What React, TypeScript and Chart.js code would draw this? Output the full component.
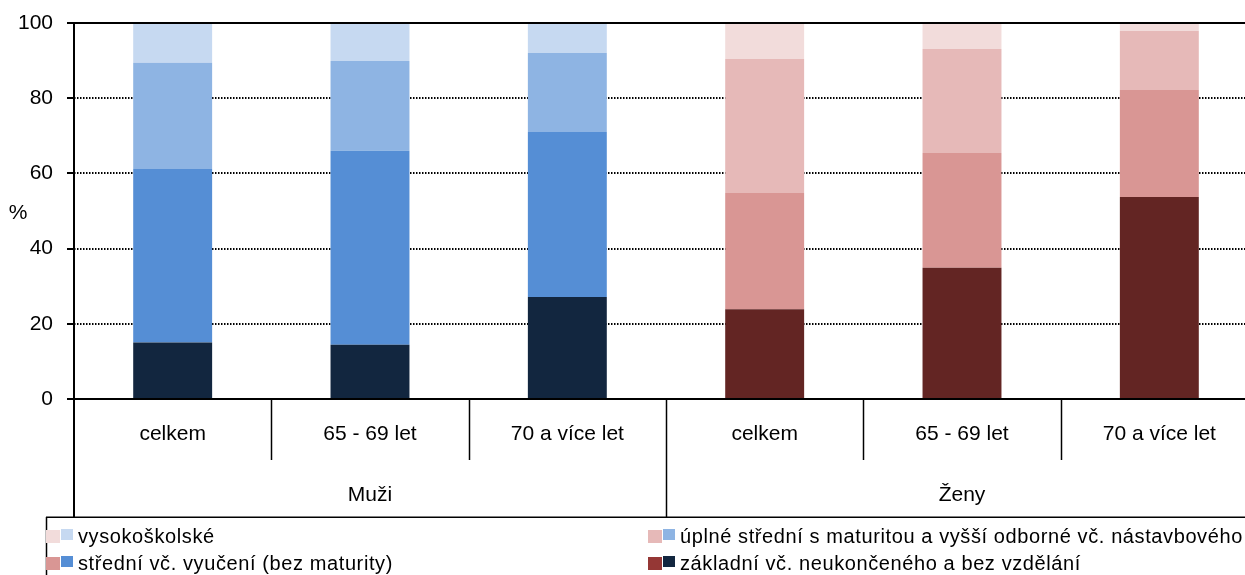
import React, { useEffect, useRef } from "react";
import { Chart, registerables } from "chart.js";

Chart.register(...registerables);

const categories = ["celkem", "65 - 69 let", "70 a více let", "celkem", "65 - 69 let", "70 a více let"];
const groups = ["Muži", "Ženy"];
const yTicks = [0, 20, 40, 60, 80, 100];

const zakladni = [15.0, 14.4, 27.1, 23.9, 34.9, 53.7];
const stredniVyuceni = [46.2, 51.6, 43.9, 30.9, 30.5, 28.5];
const uplneStredni = [28.2, 23.9, 21.0, 35.6, 27.7, 15.7];
const vysokoskolske = [10.6, 10.1, 8.0, 9.6, 6.9, 2.1];

const seriesNames = [
  "základní vč. neukončeného a bez vzdělání",
  "střední vč. vyučení (bez maturity)",
  "úplné střední s maturitou a vyšší odborné vč. nástavbového",
  "vysokoškolské",
];

const blueColors = ["#12263F", "#558ED5", "#8EB4E3", "#C6D9F1"];
const redColors = ["#632523", "#D99694", "#E6B9B8", "#F2DCDB"];
const legendRed = ["#953735", "#D99694", "#E6B9B8", "#F2DCDB"];

const FONT = "Liberation Sans, Arial, sans-serif";

const overlayPlugin = {
  id: "overlay",
  beforeDatasetsDraw(chart: any) {
    const { ctx, chartArea, scales } = chart;
    const y = scales.y;
    ctx.save();
    ctx.strokeStyle = "#000";
    ctx.lineWidth = 2;
    ctx.setLineDash([1.5, 1.5]);
    yTicks.forEach((t) => {
      if (t === 0 || t === 100) return;
      const py = Math.round(y.getPixelForValue(t));
      ctx.beginPath();
      ctx.moveTo(chartArea.left, py);
      ctx.lineTo(chartArea.right, py);
      ctx.stroke();
    });
    ctx.restore();
  },
  afterDraw(chart: any) {
    const { ctx, chartArea, scales } = chart;
    const x = scales.x;
    const y = scales.y;
    ctx.save();
    ctx.strokeStyle = "#000";
    ctx.lineWidth = 2;
    const topY = Math.round(y.getPixelForValue(100));
    ctx.beginPath();
    ctx.moveTo(chartArea.left, topY);
    ctx.lineTo(chartArea.right, topY);
    ctx.stroke();

    const bottom = chartArea.bottom;
    const catW = x.getPixelForTick(1) - x.getPixelForTick(0);
    const boxBottom = 517;
    ctx.lineWidth = 1.5;
    for (let i = 1; i < categories.length; i++) {
      const px = Math.round(x.getPixelForTick(i) - catW / 2) + 0.5;
      const isGroup = i === 3;
      ctx.beginPath();
      ctx.moveTo(px, bottom);
      ctx.lineTo(px, isGroup ? boxBottom : 460);
      ctx.stroke();
    }
    ctx.lineWidth = 2;
    ctx.beginPath();
    ctx.moveTo(chartArea.left, bottom);
    ctx.lineTo(chartArea.left, boxBottom);
    ctx.stroke();
    ctx.beginPath();
    ctx.moveTo(chartArea.right, bottom);
    ctx.lineTo(chartArea.right, boxBottom);
    ctx.stroke();

    ctx.lineWidth = 1.5;
    ctx.beginPath();
    ctx.moveTo(46, boxBottom + 0.25);
    ctx.lineTo(chart.width, boxBottom + 0.25);
    ctx.moveTo(46.5, boxBottom);
    ctx.lineTo(46.5, chart.height);
    ctx.stroke();

    ctx.fillStyle = "#000";
    ctx.font = `21px ${FONT}`;
    ctx.textAlign = "center";
    ctx.textBaseline = "middle";
    groups.forEach((g, gi) => {
      const c = (x.getPixelForTick(gi * 3) + x.getPixelForTick(gi * 3 + 2)) / 2;
      ctx.fillText(g, c, 495);
    });

    ctx.fillText("%", 18, 213);

    const items = [
      { idx: 3, x: 46, y: 536 },
      { idx: 2, x: 648, y: 536 },
      { idx: 1, x: 46, y: 563 },
      { idx: 0, x: 648, y: 563 },
    ];
    ctx.font = `20px ${FONT}`;
    ctx.textAlign = "left";
    (ctx as any).letterSpacing = "0.6px";
    items.forEach((it) => {
      ctx.fillStyle = legendRed[it.idx];
      ctx.fillRect(it.x, it.y - 6, 14, 13);
      ctx.fillStyle = blueColors[it.idx];
      ctx.fillRect(it.x + 15, it.y - 7, 12, 11);
      ctx.fillStyle = "#000";
      ctx.fillText(seriesNames[it.idx], it.x + 32, it.y + 1);
    });
    ctx.restore();
  },
};

export default function App() {
  const ref = useRef<HTMLCanvasElement | null>(null);
  useEffect(() => {
    if (!ref.current) return;
    const colorsFor = (i: number) => categories.map((_, ci) => (ci < 3 ? blueColors[i] : redColors[i]));
    const seriesData = [zakladni, stredniVyuceni, uplneStredni, vysokoskolske];
    const chart = new Chart(ref.current, {
      type: "bar",
      data: {
        labels: categories,
        datasets: seriesData.map((d, i) => ({
          label: seriesNames[i],
          data: d,
          backgroundColor: colorsFor(i),
          borderWidth: 0,
          barPercentage: 0.4,
          categoryPercentage: 1,
        })),
      },
      options: {
        responsive: false,
        animation: false,
        devicePixelRatio: 1,
        layout: { padding: { top: 23, right: 0, left: 0, bottom: 0 } },
        plugins: { legend: { display: false }, tooltip: { enabled: false } },
        scales: {
          x: {
            stacked: true,
            grid: { drawOnChartArea: false, drawTicks: false },
            border: { display: true, color: "#000", width: 2 },
            ticks: { color: "#000", font: { size: 21, family: FONT }, padding: 23, maxRotation: 0, autoSkip: false },
            afterFit: (s: any) => {
              s.height = 176;
              s.paddingLeft = 0;
              s.paddingRight = 0;
            },
          },
          y: {
            stacked: true,
            min: 0,
            max: 100,
            grid: { drawOnChartArea: false, drawTicks: true, tickLength: 7, color: "#000", lineWidth: 2 },
            border: { display: true, color: "#000", width: 2 },
            ticks: { stepSize: 20, color: "#000", font: { size: 21, family: FONT }, padding: 14 },
            afterFit: (s: any) => {
              s.width = 74;
              s.paddingTop = 0;
              s.paddingBottom = 0;
            },
          },
        },
      },
      plugins: [overlayPlugin],
    });
    return () => chart.destroy();
  }, []);
  return (
    <div style={{ position: "absolute", left: 0, top: 0, width: 1245, height: 575, overflow: "hidden", background: "#fff" }}>
      <canvas ref={ref} width={1258} height={575} style={{ display: "block" }} />
    </div>
  );
}
